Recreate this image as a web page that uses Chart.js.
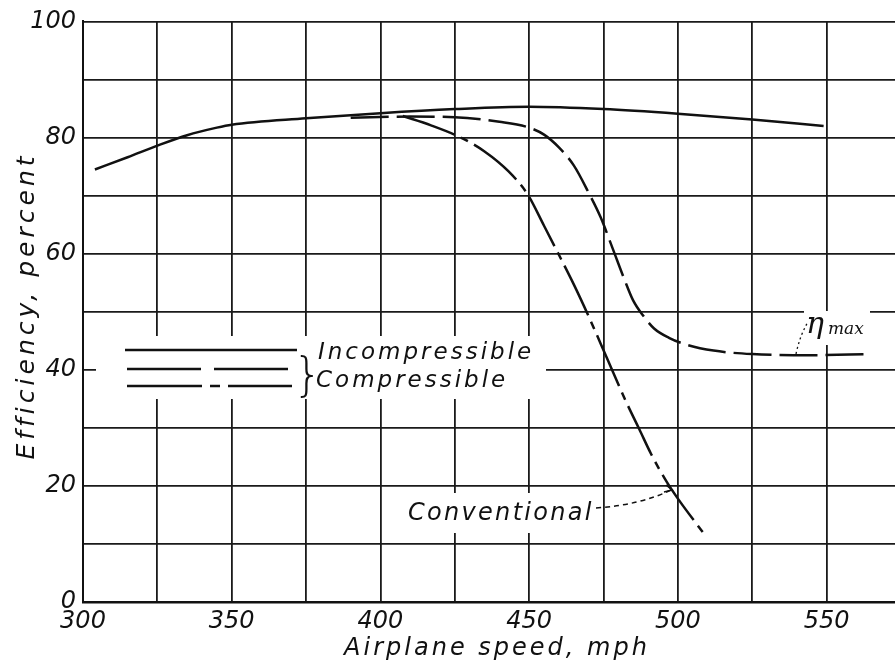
<!DOCTYPE html>
<html>
<head>
<meta charset="utf-8">
<script src="https://cdn.jsdelivr.net/npm/chart.js@4.4.0/dist/chart.umd.min.js"></script>
<style>
  html, body { margin: 0; padding: 0; background: #fff; }
  #wrap { width: 895px; height: 666px; }
</style>
</head>
<body>
<div id="wrap"><canvas id="effChart" width="895" height="666"></canvas></div>
<script>
// values
var speedIncomp = [304, 315, 325, 335, 345, 350, 375, 400, 425, 450, 475, 500, 525, 549];
var effIncomp   = [74.5, 76.6, 78.6, 80.4, 81.7, 82.2, 83.3, 84.2, 84.9, 85.3, 84.9, 84.1, 83.1, 82.0];

var speedMax = [390, 410, 425, 440, 450, 455, 460, 465, 470, 474, 478, 482, 485, 488.5, 492, 497, 503, 512, 525, 545, 564];
var effMax   = [83.4, 83.6, 83.5, 82.7, 81.7, 80.5, 78.3, 75.2, 70.5, 66.3, 61.0, 55.6, 51.9, 49.2, 47.1, 45.5, 44.3, 43.3, 42.7, 42.5, 42.7];

var speedConv = [407.5, 417, 427, 435, 443, 449.5, 455, 460, 465, 470, 476, 482.5, 487, 491, 496, 500, 508.4];
var effConv   = [83.7, 82.1, 80.0, 77.6, 74.2, 70.2, 64.8, 59.8, 54.7, 49.2, 42.2, 34.6, 29.8, 25.5, 20.9, 17.8, 12.0];

var xTitle = 'Airplane speed, mph';
var yTitle = 'Efficiency, percent';
var legendLabels = ['Incompressible', 'Compressible'];

var FONT = 'DejaVu Sans';
var INK = '#111';

function pts(xs, ys){
    return xs.map(function(x, i){ return {x: x, y: ys[i]}; });
}

var drawExtras = {
    id: 'drawExtras',
    beforeDatasetsDraw: function(chart){
        var ctx = chart.ctx;
        ctx.save();
        ctx.fillStyle = '#fff';
        // white patches behind the lettering
        ctx.fillRect(96, 336, 450, 63);
        ctx.fillRect(400, 493, 200, 40);
        ctx.fillRect(804, 311, 66, 34);
        ctx.restore();
    },
    afterDraw: function(chart){
        var ctx = chart.ctx;
        ctx.save();
        ctx.fillStyle = INK;
        ctx.strokeStyle = INK;

        // axis titles
        ctx.font = 'italic 24px "' + FONT + '"';
        ctx.letterSpacing = '3px';
        ctx.textAlign = 'center';
        ctx.textBaseline = 'middle';
        ctx.fillText(xTitle, 497, 649);
        ctx.save();
        ctx.translate(27, 306);
        ctx.rotate(-Math.PI / 2);
        ctx.letterSpacing = '4px';
        ctx.font = 'italic 25px "' + FONT + '"';
        ctx.fillText(yTitle, 0, 0);
        ctx.restore();

        // legend samples
        ctx.lineWidth = 2.5;
        ctx.setLineDash([]);
        ctx.beginPath(); ctx.moveTo(125, 350); ctx.lineTo(297, 350); ctx.stroke();
        ctx.setLineDash([74, 13]);
        ctx.beginPath(); ctx.moveTo(127, 369); ctx.lineTo(292, 369); ctx.stroke();
        ctx.setLineDash([75, 8, 10, 8]);
        ctx.beginPath(); ctx.moveTo(127, 386); ctx.lineTo(292, 386); ctx.stroke();
        ctx.setLineDash([]);

        ctx.textAlign = 'left';
        ctx.textBaseline = 'alphabetic';
        ctx.font = 'italic 23px "' + FONT + '"';
        ctx.letterSpacing = '3px';
        ctx.fillText(legendLabels[0], 318, 359);
        ctx.fillText(legendLabels[1], 316, 387);
        ctx.letterSpacing = '0px';
        ctx.font = '200 46px "' + FONT + '"';
        ctx.textBaseline = 'middle';
        ctx.fillText('}', 293, 378);

        // Conventional label with leader
        ctx.textBaseline = 'alphabetic';
        ctx.font = 'italic 24px "' + FONT + '"';
        ctx.letterSpacing = '2.3px';
        ctx.fillText('Conventional', 408, 520);
        ctx.letterSpacing = '0px';
        ctx.lineWidth = 1.5;
        ctx.setLineDash([5, 4]);
        ctx.beginPath();
        ctx.moveTo(596, 508);
        ctx.quadraticCurveTo(640, 505, 671, 490);
        ctx.stroke();
        ctx.setLineDash([]);
        ctx.beginPath();
        ctx.moveTo(666, 485); ctx.lineTo(672, 490); ctx.lineTo(664, 492);
        ctx.stroke();

        // eta max label with leader
        ctx.font = 'italic 30px "DejaVu Serif"';
        ctx.fillText('\u03b7', 806, 333);
        ctx.font = 'italic 17px "DejaVu Serif"';
        ctx.fillText('max', 828, 334);
        ctx.lineWidth = 1.3;
        ctx.setLineDash([2, 3]);
        ctx.beginPath();
        ctx.moveTo(796, 354);
        ctx.quadraticCurveTo(800, 335, 808, 322);
        ctx.stroke();
        ctx.restore();
    }
};

var canvas = document.getElementById('effChart').getContext('2d');
var chart = new Chart(canvas, {
    type: 'line',
    data: {
        datasets: [
            {
                label: 'Incompressible',
                data: pts(speedIncomp, effIncomp),
                borderColor: INK,
                borderWidth: 2.5,
                pointRadius: 0,
                cubicInterpolationMode: 'monotone',
                fill: false
            },
            {
                label: 'Compressible (max)',
                data: pts(speedMax, effMax),
                borderColor: INK,
                borderWidth: 2.5,
                borderDash: [38, 8],
                pointRadius: 0,
                cubicInterpolationMode: 'monotone',
                fill: false
            },
            {
                label: 'Compressible (conventional)',
                data: pts(speedConv, effConv),
                borderColor: INK,
                borderWidth: 2.5,
                borderDash: [55, 7, 8, 7],
                pointRadius: 0,
                cubicInterpolationMode: 'monotone',
                fill: false
            }
        ]
    },
    options: {
        responsive: false,
        animation: false,
        events: [],
        layout: { padding: { top: 18, right: 0, left: 0, bottom: 0 } },
        plugins: {
            legend: { display: false },
            tooltip: { enabled: false }
        },
        scales: {
            x: {
                type: 'linear',
                min: 300,
                max: 573,
                afterBuildTicks: function(scale){
                    scale.ticks = scale.ticks.filter(function(t){ return t.value % 25 === 0; });
                },
                afterFit: function(scale){ scale.height = 64; },
                ticks: {
                    stepSize: 25,
                    padding: 5,
                    maxRotation: 0,
                    autoSkip: false,
                    color: INK,
                    font: { family: FONT, size: 24, style: 'italic' },
                    callback: function(v){ return v % 50 === 0 ? String(v) : ''; }
                },
                grid: { color: '#1a1a1a', lineWidth: 1.8, drawTicks: false },
                border: { color: INK, width: 2.5 }
            },
            y: {
                min: 0,
                max: 100,
                afterFit: function(scale){ scale.width = 83; },
                ticks: {
                    stepSize: 10,
                    padding: 7,
                    autoSkip: false,
                    color: INK,
                    font: { family: FONT, size: 24, style: 'italic' },
                    callback: function(v){ return v % 20 === 0 ? String(v) : ''; }
                },
                grid: { color: '#1a1a1a', lineWidth: 1.8, drawTicks: false },
                border: { color: INK, width: 2 }
            }
        }
    },
    plugins: [drawExtras]
});
</script>
</body>
</html>
